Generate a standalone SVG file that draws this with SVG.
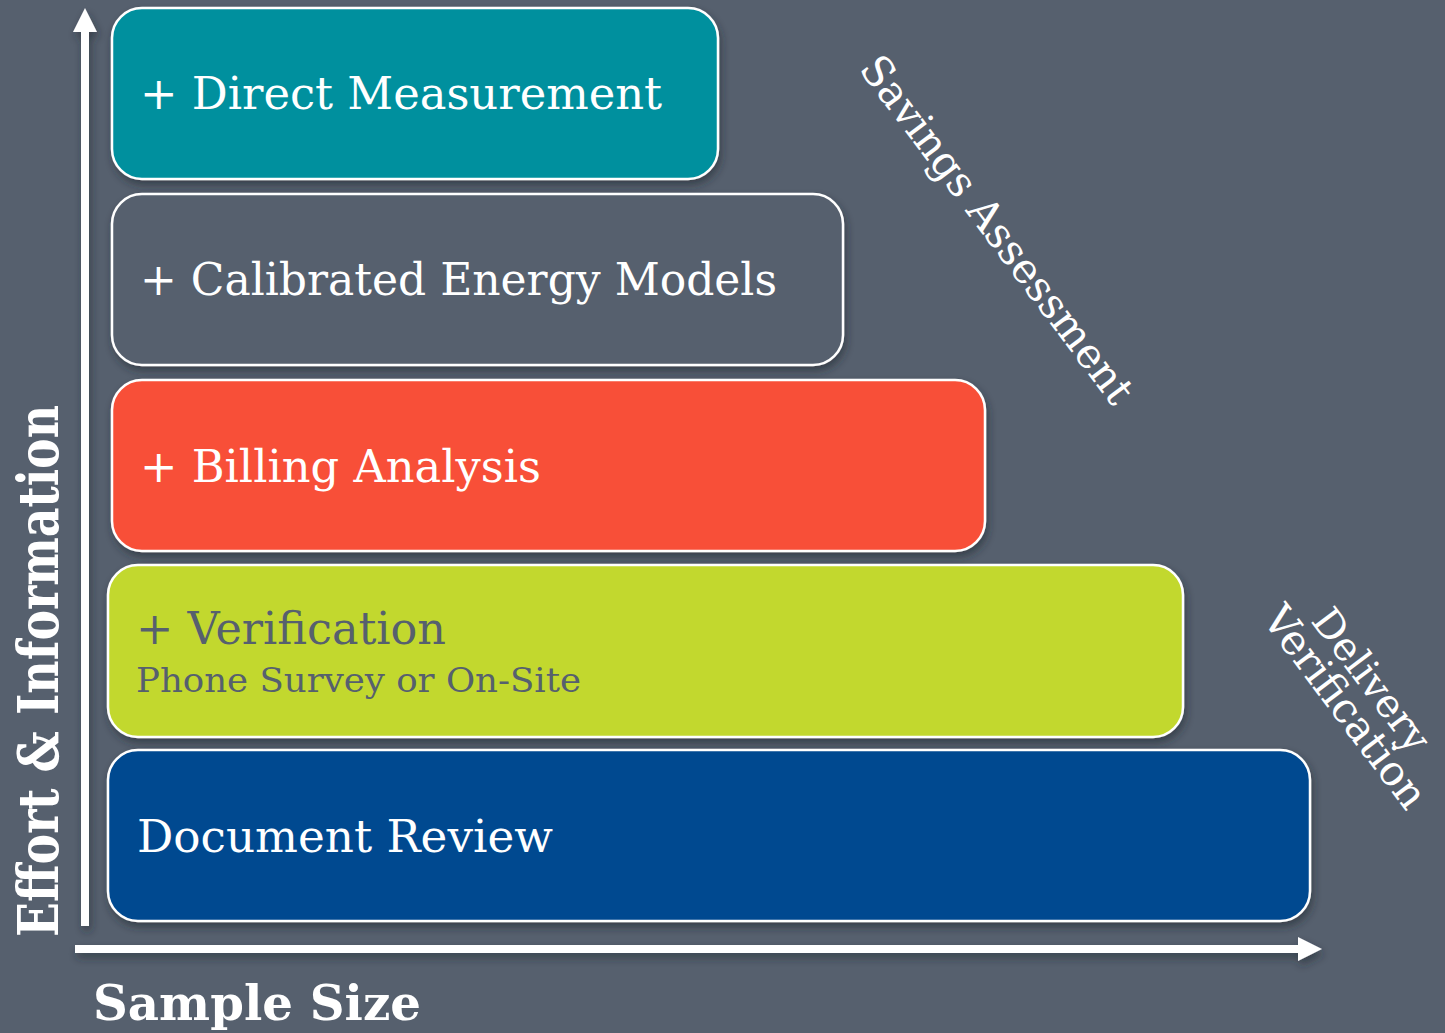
<svg xmlns="http://www.w3.org/2000/svg" width="1445" height="1033" viewBox="0 0 1445 1033">
<defs>
<filter id="sh" x="-5%" y="-10%" width="110%" height="130%">
<feDropShadow dx="2" dy="5" stdDeviation="4" flood-color="#1e2530" flood-opacity="0.55"/>
</filter>
<style>
.box{stroke:#ffffff;stroke-width:2.5;filter:url(#sh)}
.t{font-family:"DejaVu Serif","Liberation Serif",serif;fill:#ffffff}
.b{font-family:"DejaVu Serif","Liberation Serif",serif;font-weight:bold;fill:#ffffff}
.g{fill:#56606e}
</style>
</defs>
<rect width="1445" height="1033" fill="#56606e"/>
<g id="axes" filter="url(#sh)">
<rect x="81" y="30" width="8" height="896" fill="#ffffff"/>
<polygon points="85,8 97,32 73,32" fill="#ffffff"/>
<rect x="75" y="945" width="1226" height="8" fill="#ffffff"/>
<polygon points="1322,949 1298,937 1298,961" fill="#ffffff"/>
</g>
<g id="n1"><rect class="box" x="112" y="8" width="606" height="171" rx="30" fill="#00909e"/>
<text class="t" x="140" y="109" font-size="44" textLength="522" lengthAdjust="spacingAndGlyphs">+ Direct Measurement</text></g>
<g id="n2"><rect class="box" x="112" y="194" width="731" height="171" rx="30" fill="#56606e"/>
<text class="t" x="140" y="295" font-size="44" textLength="637" lengthAdjust="spacingAndGlyphs">+ Calibrated Energy Models</text></g>
<g id="n3"><rect class="box" x="112" y="380" width="873" height="171" rx="30" fill="#f85038"/>
<text class="t" x="140" y="482" font-size="44" textLength="401" lengthAdjust="spacingAndGlyphs">+ Billing Analysis</text></g>
<g id="n4"><rect class="box" x="108" y="565" width="1075" height="172" rx="30" fill="#c2d82e"/>
<text class="t g" x="136" y="644" font-size="45" textLength="310" lengthAdjust="spacingAndGlyphs">+ Verification</text>
<text class="t g" x="136" y="692" font-size="34" textLength="445" lengthAdjust="spacingAndGlyphs">Phone Survey or On-Site</text></g>
<g id="n5"><rect class="box" x="108" y="750" width="1202" height="171" rx="30" fill="#004890"/>
<text class="t" x="137" y="852" font-size="45" textLength="416" lengthAdjust="spacingAndGlyphs">Document Review</text></g>
<g id="labels">
<text class="b" transform="translate(58,937) rotate(-90)" font-size="56" textLength="532" lengthAdjust="spacingAndGlyphs">Effort &amp; Information</text>
<text class="b" x="93" y="1020" font-size="48" textLength="328" lengthAdjust="spacingAndGlyphs">Sample Size</text>
<text class="t" transform="translate(858,69) rotate(53)" font-size="42" textLength="424" lengthAdjust="spacingAndGlyphs">Savings Assessment</text>
<text class="t" transform="translate(1310,621) rotate(53)" font-size="40" textLength="168" lengthAdjust="spacingAndGlyphs">Delivery</text>
<text class="t" transform="translate(1261,619) rotate(53)" font-size="42" textLength="242" lengthAdjust="spacingAndGlyphs">Verification</text>
</g>
</svg>
